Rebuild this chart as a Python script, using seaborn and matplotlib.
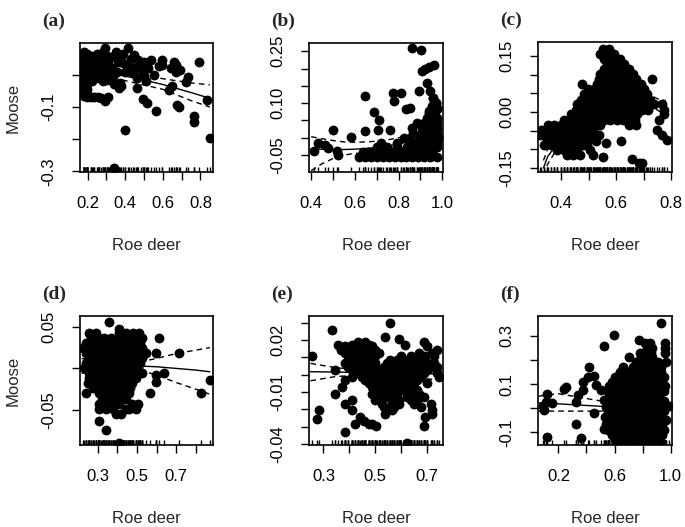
import matplotlib
matplotlib.use("Agg")
import matplotlib.pyplot as plt
import seaborn as sns
import pandas as pd

# ---------- (a) ----------
a_pts = [
    (0.178, 0.070), (0.178, 0.055), (0.178, 0.040), (0.178, 0.025), (0.178, 0.010),
    (0.178, -0.005), (0.178, -0.020), (0.178, -0.035), (0.178, -0.050), (0.178, -0.065),
    (0.195, 0.065), (0.195, 0.045), (0.195, 0.030), (0.195, 0.015), (0.195, 0.000),
    (0.195, -0.015), (0.195, -0.030), (0.195, -0.045), (0.195, -0.060), (0.195, -0.070),
    (0.215, -0.070), (0.235, -0.070), (0.255, -0.070), (0.272, -0.072), (0.290, -0.080), (0.310, -0.068),
    (0.215, 0.060), (0.230, 0.045), (0.235, 0.020), (0.220, 0.000), (0.225, -0.020),
    (0.250, 0.065), (0.260, 0.040), (0.255, 0.015), (0.260, -0.010),
    (0.280, 0.070), (0.285, 0.050), (0.280, 0.025), (0.290, 0.000), (0.280, -0.020),
    (0.294, 0.083), (0.305, 0.060), (0.310, 0.035), (0.315, 0.010), (0.305, -0.015),
    (0.324, 0.055), (0.330, 0.020), (0.335, -0.005), (0.340, -0.030),
    (0.350, 0.070), (0.368, 0.052), (0.360, 0.040), (0.355, 0.010), (0.370, -0.025),
    (0.368, -0.042), (0.377, -0.036), (0.390, 0.065),
    (0.386, 0.036), (0.400, 0.010), (0.416, 0.083), (0.421, 0.030), (0.430, 0.048),
    (0.440, 0.005), (0.448, 0.063), (0.457, 0.020), (0.470, 0.045), (0.465, -0.010),
    (0.465, -0.042), (0.483, 0.026), (0.492, 0.005), (0.501, 0.040), (0.500, -0.005),
    (0.510, -0.020), (0.520, 0.020), (0.536, 0.045), (0.554, 0.000),
    (0.492, -0.076), (0.515, -0.089), (0.563, -0.113),
    (0.581, 0.026), (0.595, 0.045), (0.595, 0.031), (0.642, 0.021), (0.657, 0.039),
    (0.669, 0.030), (0.651, -0.036), (0.634, -0.047), (0.669, 0.010), (0.690, 0.016),
    (0.736, -0.007), (0.722, -0.021), (0.678, -0.094), (0.687, -0.099), (0.766, -0.128),
    (0.766, -0.148), (0.793, 0.039), (0.837, -0.078), (0.850, -0.195), (0.398, -0.170),
    (0.342, -0.290),
]
a_line_x = [0.18, 0.30, 0.45, 0.60, 0.75, 0.85]
a_fit = [0.020, 0.008, -0.010, -0.030, -0.055, -0.073]
a_upper = [0.035, 0.020, 0.005, -0.012, -0.025, -0.031]
a_lower = [0.005, -0.004, -0.025, -0.045, -0.080, -0.100]

# ---------- (b) ----------
b_rows = [
    (-0.055, [0.621, 0.648, 0.674, 0.701, 0.728, 0.755, 0.782, 0.809, 0.836, 0.863, 0.890, 0.917, 0.944, 0.974]),
    (-0.042, [0.636, 0.662, 0.688, 0.714, 0.740, 0.766, 0.792, 0.818, 0.844, 0.870, 0.896, 0.922, 0.952]),
    (-0.028, [0.700, 0.749, 0.794, 0.839, 0.870, 0.899, 0.930, 0.974]),
    (-0.014, [0.719, 0.794, 0.854, 0.884, 0.914, 0.944, 0.974]),
    (0.000, [0.824, 0.850, 0.899, 0.930, 0.959, 0.980]),
    (0.014, [0.868, 0.907, 0.944, 0.974]),
    (0.029, [0.862, 0.907, 0.929, 0.959, 0.974]),
    (0.043, [0.884, 0.914, 0.944, 0.974]),
    (0.058, [0.929, 0.959, 0.974]),
    (0.072, [0.937, 0.962]),
    (0.086, [0.952, 0.977]),
    (0.101, [0.971]),
    (0.115, [0.959]),
]
b_extra = [
    (0.411, -0.038), (0.433, -0.016), (0.463, -0.022), (0.478, -0.029), (0.501, 0.022),
    (0.516, -0.037), (0.523, -0.050), (0.583, 0.003), (0.647, 0.122), (0.648, 0.019),
    (0.689, 0.074), (0.711, 0.051), (0.707, 0.022), (0.761, 0.022), (0.776, 0.130),
    (0.779, 0.106), (0.812, 0.130), (0.832, 0.082), (0.851, 0.085), (0.892, 0.135),
    (0.902, 0.255), (0.862, 0.260), (0.907, 0.192), (0.922, 0.199), (0.941, 0.205),
    (0.962, 0.211), (0.932, 0.159), (0.944, 0.135), (0.959, 0.115), (0.971, 0.101),
    (0.977, 0.082), (0.952, 0.091), (0.937, 0.077),
]
b_line_x = [0.40, 0.45, 0.50, 0.55, 0.60, 0.65, 0.70, 0.75, 0.80, 0.85, 0.90, 0.95, 0.99]
b_fit = [-0.032, -0.033, -0.034, -0.034, -0.033, -0.031, -0.028, -0.024, -0.018, -0.010, 0.000, 0.012, 0.020]
b_upper = [0.003, -0.003, -0.008, -0.012, -0.013, -0.012, -0.010, -0.006, 0.000, 0.006, 0.014, 0.025, 0.035]
b_lower = [-0.095, -0.075, -0.060, -0.050, -0.045, -0.045, -0.043, -0.040, -0.035, -0.027, -0.015, 0.000, 0.005]

# ---------- (c) ----------
c_rows = [
    (0.169, [0.550, 0.574]),
    (0.155, [0.542, 0.566, 0.590]),
    (0.142, [0.554, 0.578, 0.602, 0.614]),
    (0.128, [0.566, 0.590, 0.614, 0.628]),
    (0.115, [0.554, 0.578, 0.602, 0.626, 0.646]),
    (0.101, [0.542, 0.566, 0.590, 0.614, 0.638, 0.662]),
    (0.088, [0.536, 0.560, 0.584, 0.608, 0.632, 0.656, 0.672, 0.731]),
    (0.074, [0.474, 0.530, 0.554, 0.578, 0.602, 0.626, 0.650, 0.674, 0.690]),
    (0.061, [0.496, 0.518, 0.542, 0.566, 0.590, 0.614, 0.638, 0.662, 0.686, 0.700]),
    (0.047, [0.484, 0.508, 0.532, 0.556, 0.580, 0.604, 0.628, 0.652, 0.676, 0.700, 0.712]),
    (0.033, [0.470, 0.494, 0.518, 0.542, 0.566, 0.590, 0.614, 0.638, 0.662, 0.686, 0.710, 0.724]),
    (0.020, [0.458, 0.482, 0.506, 0.530, 0.554, 0.578, 0.602, 0.626, 0.650, 0.674, 0.698, 0.722, 0.736, 0.767]),
    (0.006, [0.452, 0.476, 0.500, 0.524, 0.548, 0.572, 0.596, 0.620, 0.644, 0.668, 0.692, 0.716, 0.773]),
    (-0.007, [0.434, 0.458, 0.482, 0.506, 0.530, 0.554, 0.578, 0.602, 0.626, 0.650, 0.674, 0.773]),
    (-0.021, [0.410, 0.434, 0.458, 0.482, 0.506, 0.530, 0.554, 0.578, 0.602, 0.626, 0.650, 0.668, 0.755]),
    (-0.034, [0.350, 0.374, 0.398, 0.422, 0.446, 0.470, 0.494, 0.518, 0.540, 0.647, 0.671]),
    (-0.048, [0.325, 0.349, 0.373, 0.397, 0.421, 0.445, 0.469, 0.493, 0.514, 0.749]),
    (-0.061, [0.322, 0.337, 0.361, 0.385, 0.409, 0.433, 0.457, 0.481, 0.505, 0.538, 0.767]),
    (-0.075, [0.349, 0.373, 0.397, 0.421, 0.445, 0.469, 0.493, 0.785]),
    (-0.088, [0.337, 0.361, 0.385, 0.409, 0.433, 0.457, 0.478, 0.492]),
    (-0.102, [0.385, 0.409, 0.433, 0.457, 0.504]),
    (-0.116, [0.420, 0.444, 0.468, 0.516]),
]
c_extra = [
    (0.564, -0.084), (0.617, -0.079), (0.659, -0.125), (0.683, -0.138),
    (0.695, -0.138), (0.552, -0.120), (0.528, -0.079),
]
c_line_x = [0.335, 0.35, 0.40, 0.45, 0.50, 0.55, 0.60, 0.65, 0.70, 0.75, 0.78]
c_fit = [-0.150, -0.120, -0.070, -0.040, 0.000, 0.040, 0.060, 0.055, 0.040, 0.020, 0.010]
c_upper = [-0.130, -0.100, -0.060, -0.030, 0.010, 0.050, 0.070, 0.065, 0.055, 0.035, 0.030]
c_lower = [-0.170, -0.140, -0.080, -0.050, -0.010, 0.030, 0.050, 0.045, 0.025, 0.005, -0.010]

# ---------- (d) ----------
d_rows = [
    (0.043, [0.258, 0.292, 0.410, 0.444, 0.478, 0.511]),
    (0.037, [0.266, 0.300, 0.334, 0.368, 0.402, 0.436, 0.470, 0.504, 0.528]),
    (0.031, [0.241, 0.275, 0.309, 0.343, 0.377, 0.411, 0.445, 0.479, 0.513]),
    (0.025, [0.224, 0.258, 0.292, 0.326, 0.360, 0.394, 0.428, 0.462, 0.496, 0.528]),
    (0.019, [0.241, 0.275, 0.309, 0.343, 0.377, 0.411, 0.445, 0.479, 0.513, 0.545]),
    (0.012, [0.258, 0.292, 0.326, 0.360, 0.394, 0.428, 0.462, 0.496, 0.528]),
    (0.006, [0.241, 0.275, 0.309, 0.343, 0.377, 0.411, 0.445, 0.479, 0.513]),
    (0.000, [0.232, 0.266, 0.300, 0.334, 0.368, 0.402, 0.436, 0.470, 0.504]),
    (-0.006, [0.258, 0.292, 0.326, 0.360, 0.394, 0.428, 0.462, 0.496, 0.528]),
    (-0.012, [0.258, 0.292, 0.326, 0.360, 0.394, 0.428, 0.462, 0.496]),
    (-0.018, [0.250, 0.284, 0.318, 0.352, 0.386, 0.420, 0.454, 0.477]),
    (-0.024, [0.275, 0.309, 0.343, 0.377, 0.411, 0.445, 0.465]),
    (-0.030, [0.241, 0.308, 0.342, 0.376, 0.410, 0.444, 0.460]),
    (-0.037, [0.325, 0.359, 0.393, 0.427, 0.443]),
    (-0.043, [0.308, 0.342, 0.376, 0.410, 0.477, 0.503]),
    (-0.049, [0.308, 0.342, 0.376, 0.443, 0.460, 0.494]),
    (-0.055, [0.393, 0.420]),
]
d_extra = [
    (0.359, 0.056), (0.410, 0.047), (0.612, 0.036), (0.595, 0.019), (0.714, 0.019),
    (0.595, -0.008), (0.638, -0.006), (0.599, -0.016), (0.565, -0.030), (0.823, -0.030),
    (0.869, -0.014), (0.308, -0.063), (0.342, -0.074), (0.410, -0.089),
]
d_line_x = [0.22, 0.30, 0.40, 0.50, 0.60, 0.70, 0.80, 0.87]
d_fit = [0.003, 0.003, 0.003, 0.003, 0.002, 0.000, -0.002, -0.004]
d_upper = [0.012, 0.008, 0.006, 0.007, 0.012, 0.018, 0.022, 0.025]
d_lower = [-0.006, -0.002, 0.000, -0.001, -0.008, -0.017, -0.025, -0.031]

# ---------- (e) ----------
e_rows = [
    (0.0299, [0.560]),
    (0.0256, [0.335]),
    (0.0217, [0.540]),
    (0.0206, [0.592]),
    (0.0186, [0.436, 0.462, 0.690]),
    (0.0173, [0.357, 0.410, 0.449, 0.475, 0.618]),
    (0.0163, [0.384, 0.436, 0.462, 0.488, 0.700]),
    (0.0144, [0.370, 0.397, 0.423, 0.449, 0.475, 0.501, 0.742]),
    (0.0125, [0.384, 0.410, 0.436, 0.462, 0.488, 0.514, 0.670, 0.720]),
    (0.0105, [0.255, 0.397, 0.423, 0.449, 0.475, 0.501, 0.600, 0.640, 0.696, 0.730]),
    (0.0085, [0.410, 0.436, 0.462, 0.488, 0.560, 0.586, 0.612, 0.638, 0.664, 0.690]),
    (0.0066, [0.384, 0.423, 0.449, 0.475, 0.501, 0.547, 0.573, 0.599, 0.625, 0.651, 0.677, 0.703, 0.729]),
    (0.0046, [0.397, 0.436, 0.462, 0.488, 0.534, 0.560, 0.586, 0.612, 0.638, 0.664, 0.690, 0.716, 0.742]),
    (0.0027, [0.345, 0.410, 0.449, 0.475, 0.521, 0.547, 0.573, 0.599, 0.625, 0.651, 0.677, 0.703]),
    (0.0007, [0.436, 0.462, 0.508, 0.534, 0.560, 0.586, 0.612, 0.638, 0.664, 0.690, 0.742]),
    (-0.0012, [0.410, 0.449, 0.488, 0.521, 0.547, 0.573, 0.599, 0.625, 0.651, 0.677, 0.748]),
    (-0.0031, [0.384, 0.462, 0.501, 0.534, 0.560, 0.586, 0.612, 0.638, 0.664]),
    (-0.0050, [0.475, 0.514, 0.547, 0.573, 0.599, 0.625, 0.651, 0.700]),
    (-0.0070, [0.371, 0.488, 0.527, 0.560, 0.586, 0.612, 0.638]),
    (-0.0089, [0.501, 0.534, 0.573, 0.612, 0.638, 0.664]),
    (-0.0109, [0.345, 0.488, 0.520, 0.560, 0.586, 0.625, 0.651, 0.670]),
    (-0.0128, [0.514, 0.547, 0.573, 0.625, 0.690]),
    (-0.0148, [0.410, 0.501, 0.566, 0.592, 0.638, 0.664]),
    (-0.0167, [0.384, 0.527, 0.566, 0.592, 0.651, 0.716]),
    (-0.0187, [0.534, 0.573, 0.677]),
    (-0.0206, [0.281, 0.410, 0.566, 0.722]),
    (-0.0226, [0.540, 0.720]),
    (-0.0245, [0.443, 0.696]),
    (-0.0254, [0.274]),
    (-0.0264, [0.456]),
    (-0.0283, [0.423, 0.475, 0.488]),
    (-0.0297, [0.505, 0.690]),
    (-0.0332, [0.384]),
    (-0.0395, [0.625]),
]
e_line_x = [0.25, 0.35, 0.45, 0.55, 0.65, 0.75]
e_fit = [0.0017, 0.0015, 0.0012, 0.0010, 0.0007, 0.0005]
e_upper = [0.0065, 0.0040, 0.0028, 0.0027, 0.0032, 0.0040]
e_lower = [-0.0035, -0.0010, -0.0004, -0.0007, -0.0018, -0.0030]

# ---------- (f) ----------
f_rows = [
    (0.270, [0.814, 0.850, 0.957]),
    (0.250, [0.830, 0.870, 0.957]),
    (0.230, [0.780, 0.820, 0.860, 0.957]),
    (0.210, [0.706, 0.790, 0.830, 0.870]),
    (0.190, [0.750, 0.790, 0.830, 0.870, 0.910, 0.969]),
    (0.170, [0.660, 0.730, 0.770, 0.810, 0.850, 0.890, 0.930]),
    (0.150, [0.640, 0.690, 0.730, 0.770, 0.810, 0.850, 0.890, 0.930]),
    (0.130, [0.600, 0.620, 0.660, 0.710, 0.750, 0.790, 0.830, 0.870, 0.910, 0.950]),
    (0.110, [0.580, 0.620, 0.660, 0.700, 0.740, 0.780, 0.820, 0.860, 0.900, 0.940]),
    (0.090, [0.560, 0.600, 0.640, 0.680, 0.720, 0.760, 0.800, 0.840, 0.880, 0.920, 0.960]),
    (0.070, [0.550, 0.590, 0.630, 0.670, 0.710, 0.750, 0.790, 0.830, 0.870, 0.910, 0.950]),
    (0.050, [0.560, 0.600, 0.640, 0.680, 0.720, 0.760, 0.800, 0.840, 0.880, 0.920]),
    (0.030, [0.550, 0.590, 0.630, 0.670, 0.710, 0.750, 0.790, 0.830, 0.870, 0.910, 0.950]),
    (0.010, [0.560, 0.600, 0.640, 0.680, 0.720, 0.760, 0.800, 0.840, 0.880, 0.920, 0.990]),
    (-0.010, [0.550, 0.590, 0.630, 0.670, 0.710, 0.750, 0.790, 0.830, 0.870, 0.910, 0.950]),
    (-0.030, [0.560, 0.600, 0.640, 0.680, 0.720, 0.760, 0.800, 0.840, 0.880, 0.920]),
    (-0.050, [0.550, 0.590, 0.630, 0.670, 0.710, 0.750, 0.790, 0.830, 0.870, 0.910, 0.970]),
    (-0.070, [0.580, 0.620, 0.660, 0.700, 0.740, 0.780, 0.820, 0.860, 0.900, 0.940]),
    (-0.090, [0.550, 0.590, 0.630, 0.670, 0.710, 0.750, 0.790, 0.830, 0.870, 0.910, 0.950]),
    (-0.110, [0.580, 0.620, 0.660, 0.700, 0.740, 0.780, 0.820, 0.860, 0.900, 0.940]),
    (-0.130, [0.600, 0.640, 0.680, 0.720, 0.760, 0.800, 0.840, 0.880, 0.920]),
]
f_extra = [
    (0.093, 0.011), (0.109, 0.025), (0.121, 0.060), (0.157, 0.021), (0.097, -0.009),
    (0.241, 0.081), (0.253, 0.088), (0.121, -0.121), (0.324, -0.065), (0.360, -0.124),
    (0.324, 0.025), (0.336, 0.053), (0.372, 0.109), (0.372, 0.077), (0.408, 0.130),
    (0.420, 0.172), (0.456, 0.133), (0.467, 0.095), (0.451, -0.018), (0.527, 0.255),
    (0.594, 0.301), (0.503, 0.074), (0.527, 0.032), (0.539, 0.004), (0.933, 0.353),
    (0.539, -0.065), (0.527, -0.086), (0.530, -0.037), (0.778, 0.283),
]
f_line_x = [0.06, 0.20, 0.35, 0.50, 0.65, 0.80, 0.95, 1.00]
f_fit = [0.022, 0.018, 0.013, 0.008, 0.005, 0.005, 0.008, 0.010]
f_upper = [0.050, 0.060, 0.045, 0.030, 0.020, 0.015, 0.020, 0.025]
f_lower = [-0.012, -0.012, -0.012, -0.012, -0.010, -0.005, -0.004, -0.005]


def to_frame(rows, extra):
    pts = [(x, y) for y, xs in rows for x in xs] + extra
    return pd.DataFrame(pts, columns=["roe", "moose"])


panels = [
    dict(tag="(a)", df=pd.DataFrame(a_pts, columns=["roe", "moose"]),
         lx=a_line_x, fit=a_fit, up=a_upper, lo=a_lower,
         xlim=(0.159, 0.867), ylim=(-0.302, 0.099),
         xt=[0.2, 0.3, 0.4, 0.5, 0.6, 0.7, 0.8], xl=["0.2", "", "0.4", "", "0.6", "", "0.8"],
         yt=[-0.3, -0.2, -0.1, 0.0], yl=["-0.3", "", "-0.1", ""],
         box=(80, 43, 213, 172), ylab=True),
    dict(tag="(b)", df=to_frame(b_rows, b_extra),
         lx=b_line_x, fit=b_fit, up=b_upper, lo=b_lower,
         xlim=(0.39, 1.003), ylim=(-0.099, 0.274),
         xt=[0.4, 0.5, 0.6, 0.7, 0.8, 0.9, 1.0], xl=["0.4", "", "0.6", "", "0.8", "", "1.0"],
         yt=[-0.05, 0.0, 0.05, 0.10, 0.15, 0.20, 0.25], yl=["-0.05", "", "", "0.10", "", "", "0.25"],
         box=(309, 43, 443, 172), ylab=False),
    dict(tag="(c)", df=to_frame(c_rows, c_extra),
         lx=c_line_x, fit=c_fit, up=c_upper, lo=c_lower,
         xlim=(0.315, 0.803), ylim=(-0.161, 0.187),
         xt=[0.4, 0.5, 0.6, 0.7, 0.8], xl=["0.4", "", "0.6", "", "0.8"],
         yt=[-0.15, -0.10, -0.05, 0.0, 0.05, 0.10, 0.15], yl=["-0.15", "", "", "0.00", "", "", "0.15"],
         box=(538, 42, 672, 172), ylab=False),
    dict(tag="(d)", df=to_frame(d_rows, d_extra),
         lx=d_line_x, fit=d_fit, up=d_upper, lo=d_lower,
         xlim=(0.211, 0.886), ylim=(-0.092, 0.063),
         xt=[0.3, 0.4, 0.5, 0.6, 0.7, 0.8], xl=["0.3", "", "0.5", "", "0.7", ""],
         yt=[-0.05, 0.0, 0.05], yl=["-0.05", "", "0.05"],
         box=(80, 316, 213, 445), ylab=True),
    dict(tag="(e)", df=to_frame(e_rows, []),
         lx=e_line_x, fit=e_fit, up=e_upper, lo=e_lower,
         xlim=(0.244, 0.764), ylim=(-0.0405, 0.0338),
         xt=[0.3, 0.4, 0.5, 0.6, 0.7], xl=["0.3", "", "0.5", "", "0.7"],
         yt=[-0.04, -0.03, -0.02, -0.01, 0.0, 0.01, 0.02, 0.03],
         yl=["-0.04", "", "", "-0.01", "", "", "0.02", ""],
         box=(309, 316, 443, 445), ylab=False),
    dict(tag="(f)", df=to_frame(f_rows, f_extra),
         lx=f_line_x, fit=f_fit, up=f_upper, lo=f_lower,
         xlim=(0.054, 1.01), ylim=(-0.152, 0.381),
         xt=[0.2, 0.4, 0.6, 0.8, 1.0], xl=["0.2", "", "0.6", "", "1.0"],
         yt=[-0.1, 0.0, 0.1, 0.2, 0.3], yl=["-0.1", "", "0.1", "", "0.3"],
         box=(538, 316, 672, 445), ylab=False),
]

sns.set_style("ticks")
plt.rcParams["font.family"] = ["Liberation Sans", "DejaVu Sans"]

W, H = 685, 527
fig = plt.figure(figsize=(W / 100, H / 100), dpi=100)

for p in panels:
    l, t, r, b = p["box"]
    ax = fig.add_axes([l / W, 1 - b / H, (r - l) / W, (b - t) / H])

    sns.lineplot(x=p["lx"], y=p["fit"], color="k", linewidth=1.0, sort=False, ax=ax)
    sns.lineplot(x=p["lx"], y=p["up"], color="k", linewidth=1.0, sort=False,
                 linestyle=(0, (4, 3)), ax=ax)
    sns.lineplot(x=p["lx"], y=p["lo"], color="k", linewidth=1.0, sort=False,
                 linestyle=(0, (4, 3)), ax=ax)
    sns.scatterplot(data=p["df"], x="roe", y="moose", s=50, color="k",
                    linewidth=0, ax=ax, zorder=3)
    sns.rugplot(data=p["df"], x="roe", height=0.035, color="k", linewidth=1.0,
                expand_margins=False, ax=ax)

    ax.set_xlim(*p["xlim"])
    ax.set_ylim(*p["ylim"])
    ax.set_xticks(p["xt"])
    ax.set_xticklabels(p["xl"])
    ax.set_yticks(p["yt"])
    ax.set_yticklabels(p["yl"], rotation=90, va="center")
    ax.tick_params(direction="out", length=6, width=1, colors="k", labelsize=12, pad=11)
    for sp in ax.spines.values():
        sp.set_visible(True)
        sp.set_color("k")
        sp.set_linewidth(1.2)

    ax.set_xlabel("Roe deer", fontsize=12, labelpad=20)
    if p["ylab"]:
        ax.set_ylabel("Moose", fontsize=12, labelpad=15)
    else:
        ax.set_ylabel("")

    fig.text((l - 38) / W, 1 - (t - 22) / H, p["tag"], fontsize=14, fontweight="bold",
             family=["Liberation Serif", "DejaVu Serif"], ha="left", va="center")

fig.savefig("out.png", dpi=100)
